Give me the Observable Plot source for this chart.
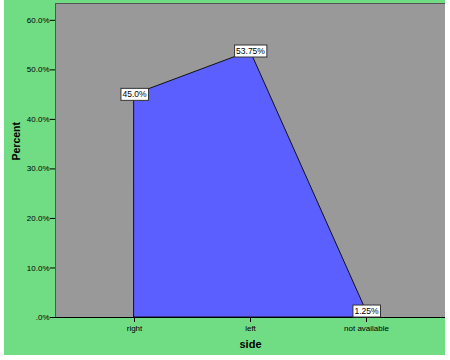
<!DOCTYPE html>
<html><head><meta charset="utf-8">
<script src="https://cdn.jsdelivr.net/npm/d3@7"></script>
<script src="https://cdn.jsdelivr.net/npm/@observablehq/plot@0.6"></script>
<style>
html,body{margin:0;padding:0;background:#fff;}
#wrap{position:absolute;left:4px;top:0;width:441px;height:355px;background:#70dc84;}
</style></head><body><div id="wrap"></div>
<script>
const categories = ["right", "left", "not available"];
const percents = [45.0, 53.75, 1.25];
const labels = ["45.0%", "53.75%", "1.25%"];
const yTicks = [0, 10, 20, 30, 40, 50, 60];

const data = categories.map((c, i) => ({side: c, pct: percents[i], label: labels[i]}));

const chart = Plot.plot({
  width: 441, height: 355,
  marginLeft: 51, marginTop: 3, marginRight: 0, marginBottom: 38,
  style: {background: "transparent", fontFamily: "Liberation Sans, Arial, sans-serif", fontSize: "8px", color: "#000"},
  x: {type: "point", domain: categories, padding: 0.67, label: null},
  y: {domain: [0, 63.4], label: null},
  marks: [
    Plot.frame({fill: "#999999", stroke: "#555"}),
    Plot.areaY(data, {x: "side", y: "pct", fill: "#5b5fff", stroke: "#111", strokeWidth: 1}),
    Plot.axisY({ticks: yTicks, tickSize: 5, tickPadding: 1, stroke: "#000", tickFormat: d => d === 0 ? ".0%" : d.toFixed(1) + "%", fontSize: 8, label: null}),
    Plot.ruleX([0], {frameAnchor: "left", stroke: "#1a5a1a"}),
    Plot.axisX({tickSize: 5, tickPadding: 3, fontSize: 8, label: null}),
    Plot.ruleY([0], {stroke: "#000"}),
    Plot.text(data, {x: "side", y: "pct", text: "label", fontSize: 8.5, fill: "#000"}),
    Plot.text(["Percent"], {frameAnchor: "left", dx: -39, rotate: -90, fontWeight: "bold", fontSize: 10.5}),
    Plot.text(["side"], {frameAnchor: "bottom", dy: 30, fontWeight: "bold", fontSize: 11})
  ]
});
document.getElementById("wrap").appendChild(chart);

// white boxes behind value labels
const svg = d3.select(chart);
const groups = svg.selectAll("g[aria-label=text]").nodes();
const g = d3.select(groups[0]);
g.selectAll("text").each(function() {
  const b = this.getBBox();
  d3.select(this.parentNode).insert("rect", () => this)
    .attr("x", b.x - 1.5).attr("y", b.y - 1)
    .attr("width", b.width + 3).attr("height", b.height + 2)
    .attr("transform", this.getAttribute("transform"))
    .attr("fill", "#fff").attr("stroke", "#333").attr("stroke-width", 1);
});
</script></body></html>
